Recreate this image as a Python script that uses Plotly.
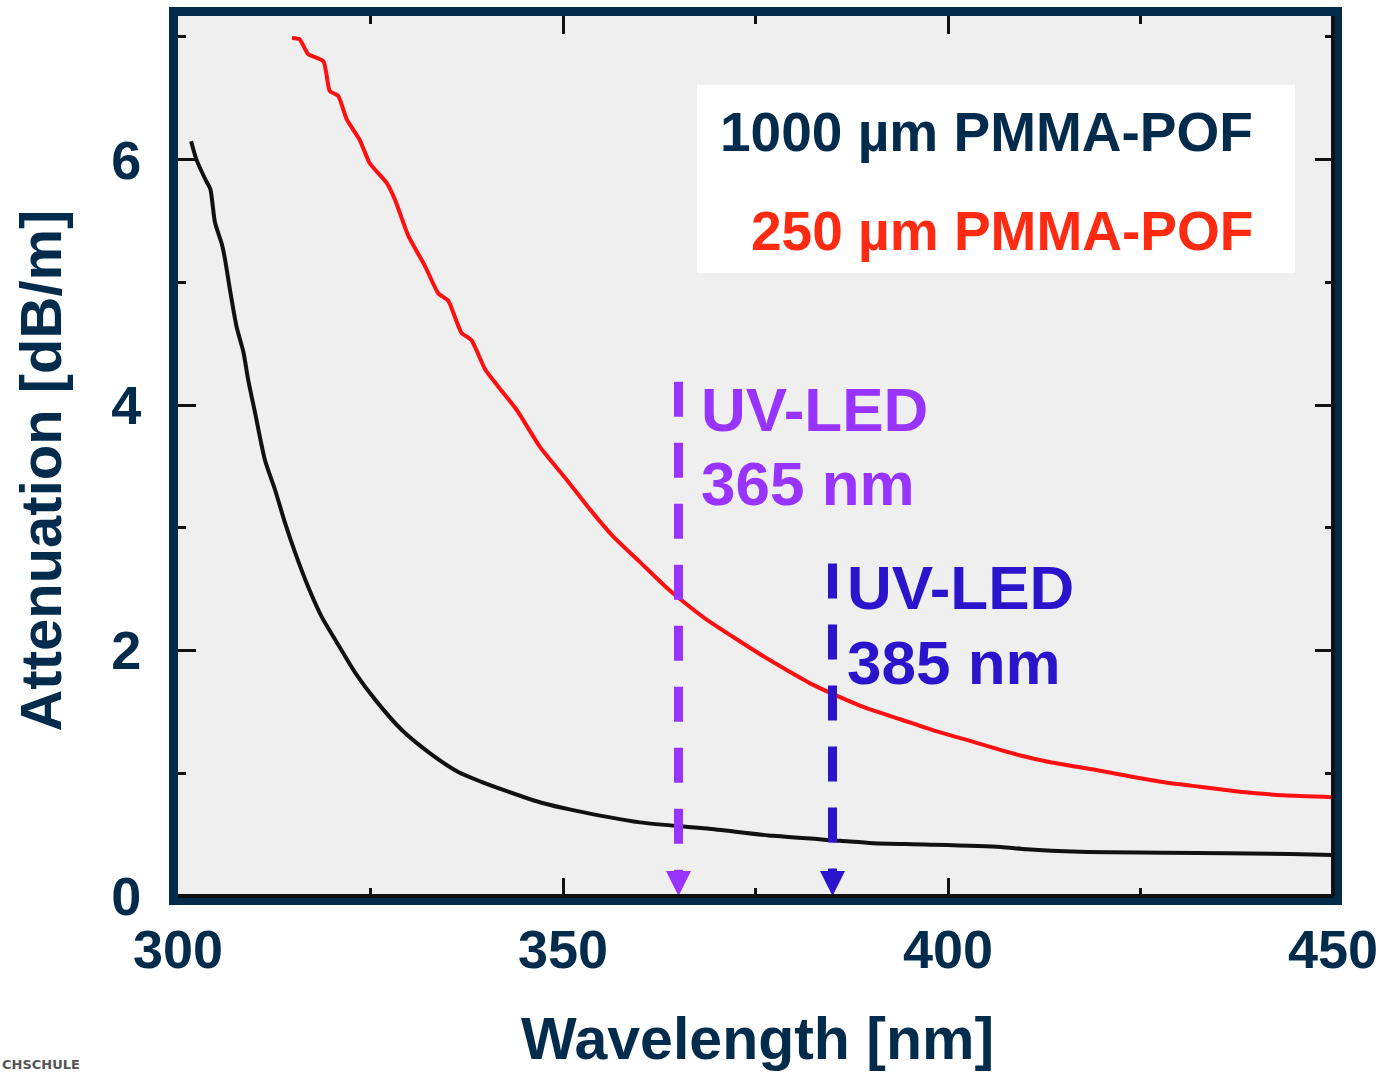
import plotly.graph_objects as go

# ---------------- data ----------------
wl_1000 = [301.7, 302.4, 303.7, 304.2, 304.8, 305.7, 306.1, 306.8, 307.6, 308.5, 309.1, 310.0,
           311.3, 312.6, 313.9, 315.2, 316.9, 318.7, 320.4, 323.0, 325.6, 329.1, 333.0, 336.4,
           339.4, 342.9, 347.2, 351.3, 360.0, 368.7, 377.3, 386.0, 390.3, 397.0, 406.8, 410.2,
           417.1, 428.4, 444.4, 450.0]
att_1000 = [6.15, 6.00, 5.82, 5.76, 5.49, 5.31, 5.19, 4.92, 4.64, 4.43, 4.21, 3.94,
            3.55, 3.31, 3.04, 2.80, 2.52, 2.27, 2.09, 1.82, 1.60, 1.35, 1.15, 1.01,
            0.93, 0.85, 0.76, 0.70, 0.60, 0.55, 0.49, 0.45, 0.43, 0.42, 0.40, 0.38,
            0.36, 0.353, 0.342, 0.334]

wl_250 = [314.8, 315.8, 316.9, 318.9, 319.7, 320.8, 321.9, 323.6, 324.9, 327.1, 328.2, 329.9,
          332.1, 333.8, 335.1, 336.8, 338.1, 339.9, 341.6, 344.0, 347.0, 350.5, 353.5, 356.5,
          360.0, 363.5, 365.4, 368.7, 372.1, 375.6, 379.1, 382.5, 385.6, 389.4, 393.8, 398.1,
          402.0, 406.8, 409.4, 413.3, 418.9, 424.1, 428.8, 432.7, 437.9, 443.6, 450.0]
att_250 = [6.99, 6.98, 6.86, 6.80, 6.56, 6.52, 6.33, 6.16, 5.97, 5.81, 5.67, 5.38,
           5.13, 4.91, 4.85, 4.59, 4.53, 4.29, 4.15, 3.96, 3.66, 3.39, 3.15, 2.93,
           2.72, 2.51, 2.41, 2.25, 2.11, 1.97, 1.84, 1.72, 1.63, 1.53, 1.44, 1.35,
           1.28, 1.19, 1.145, 1.09, 1.03, 0.97, 0.92, 0.89, 0.85, 0.82, 0.805]

series_names = ["1000 µm PMMA-POF", "250 µm PMMA-POF"]
led_wavelengths = [365, 385]
led_names = ["UV-LED", "UV-LED"]
x_tick_vals = [300, 350, 400, 450]
x_minor_vals = [325, 375, 425]
y_tick_vals = [0, 2, 4, 6]
y_minor_vals = [1, 3, 5, 7]

# ---------------- style ----------------
NAVY = "#032b4c"
RED_LINE = "#ff1010"
RED_TEXT = "#ff2a12"
PURPLE = "#9933ff"
BLUE = "#2b14cc"
FONT = "Liberation Sans, Arial, sans-serif"
led_colors = [PURPLE, BLUE]
led_line_tops = [4.19, 2.71]

fig = go.Figure()

fig.add_trace(go.Scatter(x=wl_1000, y=att_1000, mode="lines",
                         line=dict(color="#111111", width=4, shape="spline", smoothing=0.7),
                         name=series_names[0]))
fig.add_trace(go.Scatter(x=wl_250, y=att_250, mode="lines",
                         line=dict(color=RED_LINE, width=4, shape="spline", smoothing=0.5),
                         name=series_names[1]))

for wl, col, top in zip(led_wavelengths, led_colors, led_line_tops):
    fig.add_trace(go.Scatter(x=[wl, wl], y=[top, 0.2], mode="lines",
                             line=dict(color=col, width=9, dash="35px,26px")))
    fig.add_trace(go.Scatter(x=[wl], y=[0], mode="markers", cliponaxis=False,
                             marker=dict(symbol="arrow-down", size=25, color=col,
                                         line=dict(width=0))))

tickfont = dict(family=FONT, size=54, color=NAVY, weight="bold")

fig.update_xaxes(range=[300, 450], tickvals=x_tick_vals, ticks="inside", ticklen=18,
                 tickwidth=3, tickcolor="#111111", showline=True, linecolor=NAVY,
                 linewidth=9, mirror="allticks", showgrid=False, zeroline=False,
                 tickfont=tickfont, ticklabelstandoff=-2, automargin=False,
                 minor=dict(tickvals=x_minor_vals, ticks="inside", ticklen=8,
                            tickwidth=3, tickcolor="#111111", showgrid=False))
fig.update_yaxes(range=[0, 7.17], tickvals=y_tick_vals, ticks="inside", ticklen=18,
                 tickwidth=3, tickcolor="#111111", showline=True, linecolor=NAVY,
                 linewidth=9, mirror="allticks", showgrid=False, zeroline=False,
                 tickfont=tickfont, ticklabelstandoff=17, automargin=False,
                 minor=dict(tickvals=y_minor_vals, ticks="inside", ticklen=8,
                            tickwidth=3, tickcolor="#111111", showgrid=False))

shapes = [
    dict(type="rect", xref="paper", yref="paper", x0=0.4494, x1=0.9671, y0=0.708, y1=0.9216,
         fillcolor="white", line=dict(width=0), layer="below"),
    dict(type="line", xref="paper", yref="paper", x0=0, x1=1, y0=0, y1=0,
         line=dict(color="#111111", width=4)),
    dict(type="line", xref="paper", yref="paper", x0=1, x1=1, y0=0, y1=1,
         line=dict(color="#111111", width=4)),
]

annotations = [
    dict(text=series_names[0], xref="paper", yref="paper", x=0.9325, y=0.868,
         xanchor="right", yanchor="middle", showarrow=False,
         font=dict(family=FONT, size=55, color=NAVY, weight="bold")),
    dict(text=series_names[1], xref="paper", yref="paper", x=0.9325, y=0.7557,
         xanchor="right", yanchor="middle", showarrow=False,
         font=dict(family=FONT, size=55, color=RED_TEXT, weight="bold")),
    dict(text="Wavelength [nm]", xref="paper", yref="paper", x=0.5017, y=-0.163,
         xanchor="center", yanchor="middle", showarrow=False,
         font=dict(family=FONT, size=59, color=NAVY, weight="bold")),
    dict(text="Attenuation [dB/m]", xref="paper", yref="paper", x=-0.1186, y=0.4835,
         xanchor="center", yanchor="middle", showarrow=False, textangle=-90,
         font=dict(family=FONT, size=58, color=NAVY, weight="bold")),
    dict(text="CHSCHULE", xref="paper", yref="paper", x=-0.154, y=-0.192,
         xanchor="left", yanchor="middle", showarrow=False,
         font=dict(family="DejaVu Sans, sans-serif", size=13, color="#555555", weight="bold")),
]

led_label_y = [(3.962, 3.359), (2.511, 1.899)]
led_xshift = [20, 12]
for wl, name, col, (y1, y2), xs in zip(led_wavelengths, led_names, led_colors,
                                       led_label_y, led_xshift):
    annotations.append(dict(text=name, xref="x", yref="y", x=wl, y=y1, xanchor="left",
                            yanchor="middle", showarrow=False, xshift=xs,
                            font=dict(family=FONT, size=62, color=col, weight="bold")))
    annotations.append(dict(text=f"{wl} nm", xref="x", yref="y", x=wl, y=y2, xanchor="left",
                            yanchor="middle", showarrow=False, xshift=xs,
                            font=dict(family=FONT, size=62, color=col, weight="bold")))

fig.update_layout(width=1383, height=1072, margin=dict(l=178, r=50, t=16, b=176, pad=0),
                  plot_bgcolor="#efefef", paper_bgcolor="white", showlegend=False,
                  shapes=shapes, annotations=annotations)

fig.write_html("out.html", config={"displayModeBar": False},
               post_script="document.body.style.margin='0px';document.body.style.overflow='hidden';")
